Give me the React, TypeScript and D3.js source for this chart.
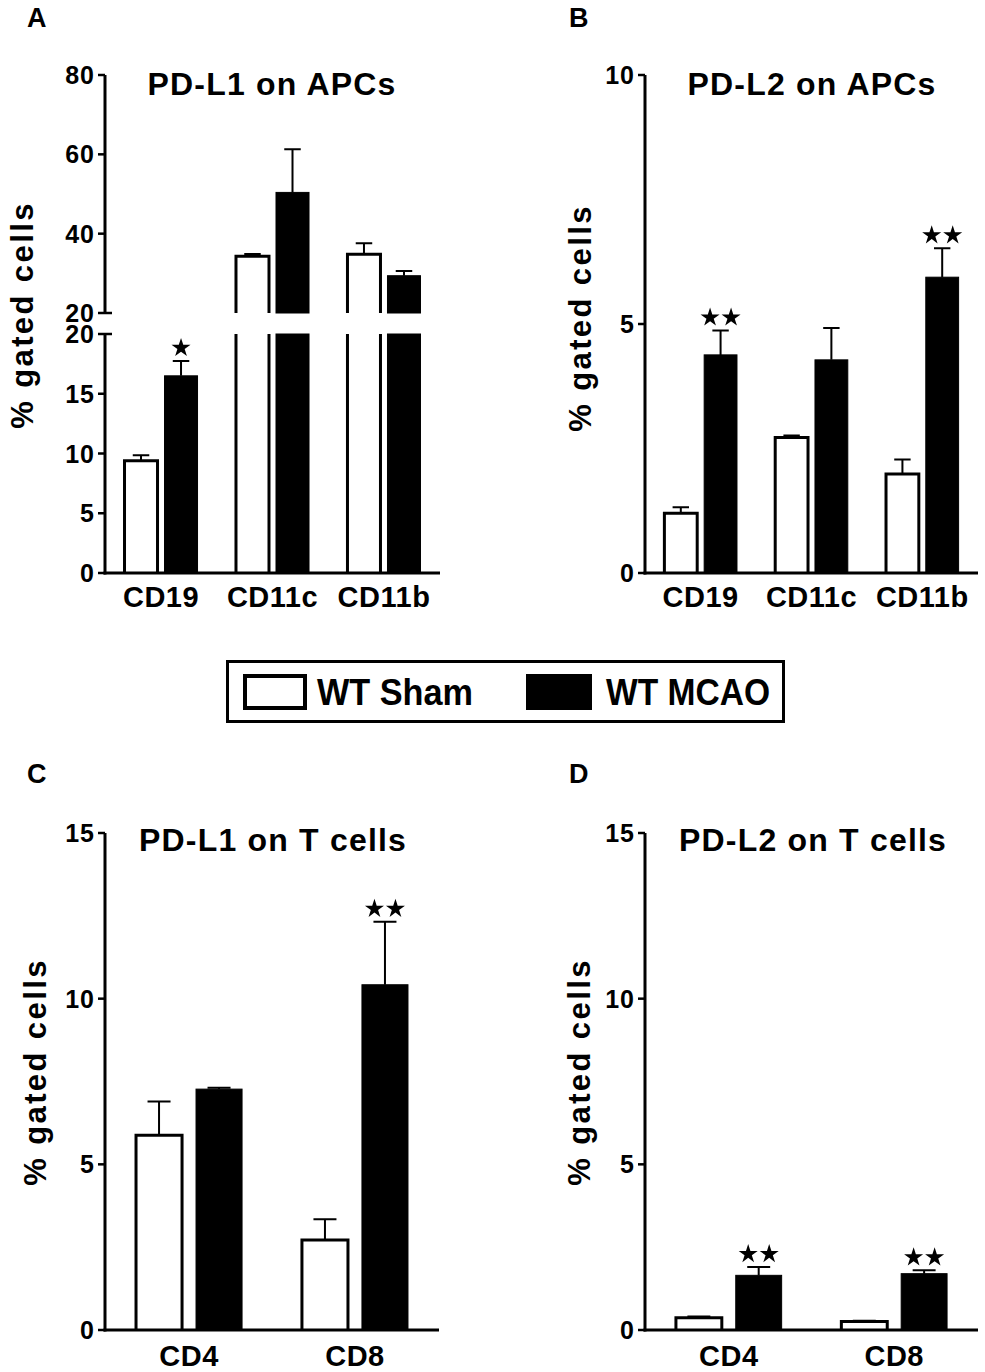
import React from "react";
import * as d3 from "d3";

// ---- data ----
const series = ["WT Sham", "WT MCAO"];
const apcGroups = ["CD19", "CD11c", "CD11b"];
const tGroups = ["CD4", "CD8"];

// A: PD-L1 on APCs
const pdl1ApcSham = [9.4, 34.3, 34.8];
const pdl1ApcShamErr = [0.45, 0.6, 2.8];
const pdl1ApcMcao = [16.5, 50.4, 29.4];
const pdl1ApcMcaoErr = [1.25, 10.9, 1.2];
const pdl1ApcStars = [1, 0, 0];

// B: PD-L2 on APCs
const pdl2ApcSham = [1.2, 2.72, 1.99];
const pdl2ApcShamErr = [0.12, 0.04, 0.29];
const pdl2ApcMcao = [4.38, 4.28, 5.94];
const pdl2ApcMcaoErr = [0.49, 0.64, 0.58];
const pdl2ApcStars = [2, 0, 2];

// C: PD-L1 on T cells
const pdl1TSham = [5.88, 2.72];
const pdl1TShamErr = [1.02, 0.62];
const pdl1TMcao = [7.27, 10.42];
const pdl1TMcaoErr = [0.04, 1.9];
const pdl1TStars = [0, 2];

// D: PD-L2 on T cells
const pdl2TSham = [0.37, 0.26];
const pdl2TShamErr = [0.04, 0.02];
const pdl2TMcao = [1.65, 1.7];
const pdl2TMcaoErr = [0.25, 0.1];
const pdl2TStars = [2, 2];

// y tick labels
const ticksALow = [0, 5, 10, 15, 20];
const ticksAHigh = [20, 40, 60, 80];
const ticksB = [0, 5, 10];
const ticksT = [0, 5, 10, 15];

const FONT = "Liberation Sans, Arial, Helvetica, sans-serif";

const apcLayout = { padIn: 0.345, padOut: 0.175, barPad: 0.175 };
const tLayout = { padIn: 0.361, padOut: 0.187, barPad: 0.233 };

const panels = [
  {
    letter: "A", letterX: 27, letterY: 27,
    title: "PD-L1 on APCs", titleX: 272, titleY: 95,
    ylabelX: 33, ylabelY: 315, xlabelY: 607,
    axisX: 105, xEnd: 440,
    groups: apcGroups, ...apcLayout,
    values: [pdl1ApcSham, pdl1ApcMcao],
    errors: [pdl1ApcShamErr, pdl1ApcMcaoErr],
    stars: pdl1ApcStars,
    segments: [
      { domain: [0, 20], range: [573, 334], ticks: ticksALow },
      { domain: [20, 80], range: [313, 75], ticks: ticksAHigh },
    ],
  },
  {
    letter: "B", letterX: 569, letterY: 27,
    title: "PD-L2 on APCs", titleX: 812, titleY: 95,
    ylabelX: 591, ylabelY: 318, xlabelY: 607,
    axisX: 645, xEnd: 978,
    groups: apcGroups, ...apcLayout,
    values: [pdl2ApcSham, pdl2ApcMcao],
    errors: [pdl2ApcShamErr, pdl2ApcMcaoErr],
    stars: pdl2ApcStars,
    segments: [{ domain: [0, 10], range: [573, 75], ticks: ticksB }],
  },
  {
    letter: "C", letterX: 27, letterY: 783,
    title: "PD-L1 on T cells", titleX: 273, titleY: 851,
    ylabelX: 46, ylabelY: 1072, xlabelY: 1366,
    axisX: 105, xEnd: 439,
    groups: tGroups, ...tLayout,
    values: [pdl1TSham, pdl1TMcao],
    errors: [pdl1TShamErr, pdl1TMcaoErr],
    stars: pdl1TStars,
    segments: [{ domain: [0, 15], range: [1330, 833], ticks: ticksT }],
  },
  {
    letter: "D", letterX: 569, letterY: 783,
    title: "PD-L2 on T cells", titleX: 813, titleY: 851,
    ylabelX: 590, ylabelY: 1072, xlabelY: 1366,
    axisX: 645, xEnd: 978,
    groups: tGroups, ...tLayout,
    values: [pdl2TSham, pdl2TMcao],
    errors: [pdl2TShamErr, pdl2TMcaoErr],
    stars: pdl2TStars,
    segments: [{ domain: [0, 15], range: [1330, 833], ticks: ticksT }],
  },
];

const starPath = d3.symbol(d3.symbolStar, 112)() as string;

function Panel({ cfg }: { cfg: any }) {
  const outer = d3
    .scaleBand<string>()
    .domain(cfg.groups)
    .range([cfg.axisX, cfg.xEnd])
    .paddingInner(cfg.padIn)
    .paddingOuter(cfg.padOut);
  const inner = d3
    .scaleBand<string>()
    .domain(series)
    .range([0, outer.bandwidth()])
    .paddingInner(cfg.barPad);
  const segs = cfg.segments.map((s: any) => ({
    ...s,
    scale: d3.scaleLinear().domain(s.domain).range(s.range),
  }));
  const yOf = (v: number) => {
    const s = segs.find((s: any) => v <= s.domain[1]) || segs[segs.length - 1];
    return s.scale(v);
  };
  const baseY = segs[0].range[0];
  const bw = inner.bandwidth();
  const broken = segs.length > 1;

  return (
    <g>
      <text x={cfg.letterX} y={cfg.letterY} fontFamily={FONT} fontWeight="bold" fontSize={27}>
        {cfg.letter}
      </text>
      <text
        x={cfg.titleX}
        y={cfg.titleY}
        textAnchor="middle"
        fontFamily={FONT}
        fontWeight="bold"
        fontSize={32}
        letterSpacing={1.2}
      >
        {cfg.title}
      </text>
      <text
        transform={`translate(${cfg.ylabelX},${cfg.ylabelY}) rotate(-90)`}
        textAnchor="middle"
        fontFamily={FONT}
        fontWeight="bold"
        fontSize={31}
        letterSpacing={2.4}
      >
        % gated cells
      </text>

      {/* bars */}
      {cfg.groups.map((g: string, i: number) =>
        series.map((sName, j) => {
          const v = cfg.values[j][i];
          const x = (outer(g) as number) + (inner(sName) as number);
          const filled = j === 1;
          return segs.map((s: any, k: number) => {
            if (k > 0 && v <= s.domain[0]) return null;
            const y0 = s.scale(s.domain[0]);
            const y1 = s.scale(Math.min(v, s.domain[1]));
            const openTop = v > s.domain[1];
            if (filled) {
              return (
                <rect key={`${i}-${j}-${k}`} x={x} y={y1} width={bw} height={y0 - y1}
                  fill="#000" stroke="#000" strokeWidth={1} />
              );
            }
            const outline = openTop
              ? `M${x},${y0}V${y1}M${x + bw},${y1}V${y0}`
              : `M${x},${y0}V${y1}H${x + bw}V${y0}`;
            return (
              <g key={`${i}-${j}-${k}`}>
                <rect x={x} y={y1} width={bw} height={y0 - y1} fill="#fff" />
                <path d={outline} fill="none" stroke="#000" strokeWidth={3} />
              </g>
            );
          });
        })
      )}

      {/* error bars (upper only) */}
      {cfg.groups.map((g: string, i: number) =>
        series.map((sName, j) => {
          const v = cfg.values[j][i];
          const e = cfg.errors[j][i];
          const cx = (outer(g) as number) + (inner(sName) as number) + bw / 2;
          const yTop = yOf(v + e);
          const capW = bw * 0.5;
          return (
            <path
              key={`e-${i}-${j}`}
              d={`M${cx},${yOf(v)}V${yTop}M${cx - capW / 2},${yTop}H${cx + capW / 2}`}
              fill="none"
              stroke="#000"
              strokeWidth={2}
            />
          );
        })
      )}

      {/* significance stars on MCAO bars */}
      {cfg.groups.map((g: string, i: number) => {
        const n = cfg.stars[i];
        if (!n) return null;
        const cx = (outer(g) as number) + (inner(series[1]) as number) + bw / 2;
        const cy = yOf(cfg.values[1][i] + cfg.errors[1][i]) - 13;
        const offs = n === 1 ? [0] : [-10.5, 10.5];
        return offs.map((o, k) => (
          <path key={`s-${i}-${k}`} d={starPath} transform={`translate(${cx + o},${cy})`} fill="#000" />
        ));
      })}

      {/* y axis segments */}
      {segs.map((s: any, k: number) => (
        <line
          key={`ax-${k}`}
          x1={cfg.axisX}
          x2={cfg.axisX}
          y1={s.range[0] + (k === 0 ? 1.5 : 0)}
          y2={s.range[1]}
          stroke="#000"
          strokeWidth={3}
        />
      ))}
      {segs.map((s: any, k: number) =>
        s.ticks.map((t: number) => {
          const y = s.scale(t);
          const isBreak =
            broken &&
            ((k < segs.length - 1 && t === s.domain[1]) || (k > 0 && t === s.domain[0]));
          return (
            <g key={`t-${k}-${t}`}>
              <line
                x1={cfg.axisX - 7}
                x2={cfg.axisX + (isBreak ? 7 : 0)}
                y1={y}
                y2={y}
                stroke="#000"
                strokeWidth={2.5}
              />
              <text
                x={cfg.axisX - 10}
                y={y}
                dy="0.36em"
                textAnchor="end"
                fontFamily={FONT}
                fontWeight="bold"
                fontSize={25}
                letterSpacing={1}
              >
                {t}
              </text>
            </g>
          );
        })
      )}

      {/* x axis */}
      <line x1={cfg.axisX - 1.5} x2={cfg.xEnd} y1={baseY} y2={baseY} stroke="#000" strokeWidth={3} />
      {cfg.groups.map((g: string) => (
        <text
          key={`xl-${g}`}
          x={(outer(g) as number) + outer.bandwidth() / 2}
          y={cfg.xlabelY}
          textAnchor="middle"
          fontFamily={FONT}
          fontWeight="bold"
          fontSize={29}
          letterSpacing={0.5}
        >
          {g}
        </text>
      ))}
    </g>
  );
}

function Legend() {
  return (
    <g fontFamily={FONT} fontWeight="bold">
      <rect x={227.5} y={661.5} width={556} height={60} fill="#fff" stroke="#000" strokeWidth={3} />
      <rect x={245} y={676} width={60} height={32} fill="#fff" stroke="#000" strokeWidth={4} />
      <text x={317} y={705} fontSize={37} textLength={156} lengthAdjust="spacingAndGlyphs">
        {series[0]}
      </text>
      <rect x={526} y={674} width={66} height={36} fill="#000" />
      <text x={606} y={705} fontSize={37} textLength={164} lengthAdjust="spacingAndGlyphs">
        {series[1]}
      </text>
    </g>
  );
}

export default function App() {
  return (
    <svg
      width={985}
      height={1372}
      viewBox="0 0 985 1372"
      style={{ position: "absolute", left: 0, top: 0, background: "#fff" }}
    >
      <rect width={985} height={1372} fill="#fff" />
      {panels.map((p) => (
        <Panel key={p.letter} cfg={p} />
      ))}
      <Legend />
    </svg>
  );
}
